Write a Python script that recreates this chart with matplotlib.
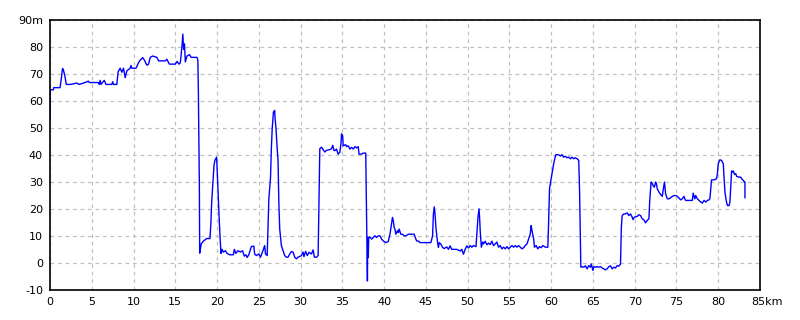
import matplotlib
matplotlib.use("Agg")
import matplotlib.pyplot as plt
import matplotlib.transforms as mtransforms

# distance (km) and elevation (m)
dist = [0, 0.02, 0.4, 0.45, 1.2, 1.35, 1.5, 1.62, 1.8, 1.95, 2.5, 3.2, 3.5, 4.0, 4.6, 4.7,
        5.8, 5.9, 6.0, 6.1, 6.5, 6.7, 7.4, 7.5, 7.6, 8.0, 8.06, 8.15, 8.4, 8.6, 8.8, 9.0,
        9.2, 9.6, 9.7, 9.8, 10.3, 10.6, 10.8, 11.1, 11.3, 11.6, 11.8, 12.0, 12.3, 12.8, 13.0,
        13.8, 14.0, 14.2, 14.3, 15.0, 15.2, 15.45, 15.6, 15.8, 15.9, 16.0, 16.1, 16.2, 16.4,
        16.7, 16.9, 17.6, 17.7, 17.76, 17.88, 17.92, 18.0, 18.1, 18.35, 18.55, 18.75, 19.15,
        19.25, 19.35, 19.47, 19.63, 19.75, 19.95, 20.07, 20.23, 20.35, 20.47, 20.6, 20.75,
        21.0, 21.2, 21.5, 21.95, 22.07, 22.25, 22.5, 22.8, 23.05, 23.26, 23.45, 23.6, 23.8,
        24.1, 24.4, 24.5, 24.7, 25.0, 25.2, 25.5, 25.7, 25.8, 26.0, 26.1, 26.2, 26.4, 26.5,
        26.6, 26.75, 26.9, 26.95, 27.06, 27.2, 27.3, 27.4, 27.5, 27.7, 27.9, 28.1, 28.3, 28.5,
        28.7, 28.9, 29.1, 29.3, 29.5, 29.7, 30.1, 30.3, 30.4, 30.6, 30.8, 31.0, 31.3, 31.5,
        31.65, 31.9, 32.1, 32.2, 32.3, 32.5, 32.7, 32.9, 33.1, 33.5, 33.7, 33.85, 34.0, 34.1,
        34.3, 34.5, 34.7, 34.85, 34.9, 35.04, 35.1, 35.4, 35.5, 35.7, 35.9, 36.1, 36.3, 36.5,
        36.7, 36.9, 37.0, 37.3, 37.5, 37.8, 37.9, 38.0, 38.04, 38.1, 38.16, 38.3, 38.5, 38.7,
        38.9, 39.1, 39.3, 39.5, 39.7, 39.9, 40.2, 40.5, 40.7, 40.9, 41.0, 41.1, 41.2, 41.3,
        41.4, 41.6, 41.7, 41.8, 42.0, 42.2, 42.4, 42.6, 42.9, 43.6, 43.8, 43.9, 44.1, 44.3,
        45.6, 45.8, 45.9, 46.0, 46.1, 46.2, 46.4, 46.5, 46.6, 46.8, 47.0, 47.2, 47.5, 47.7,
        47.9, 48.1, 48.7, 49.1, 49.3, 49.5, 49.7, 49.9, 50.1, 50.3, 50.5, 50.7, 51.0, 51.1,
        51.24, 51.36, 51.44, 51.5, 51.64, 51.8, 51.9, 52.1, 52.3, 52.5, 52.7, 52.9, 53.1, 53.3,
        53.5, 53.7, 53.9, 54.1, 54.3, 54.5, 54.7, 54.9, 55.1, 55.3, 55.5, 55.7, 55.9, 56.1,
        56.3, 56.5, 56.7, 56.9, 57.1, 57.3, 57.5, 57.6, 57.7, 57.9, 58.0, 58.2, 58.4, 58.6,
        58.8, 59.0, 59.3, 59.6, 59.7, 59.8, 59.96, 60.1, 60.3, 60.4, 60.55, 60.9, 61.1, 61.3,
        61.5, 61.7, 61.9, 62.1, 62.3, 62.5, 62.7, 62.9, 63.1, 63.3, 63.4, 63.5, 63.55, 63.7,
        63.9, 64.1, 64.3, 64.5, 64.7, 64.8, 65.0, 65.1, 65.3, 65.5, 65.7, 65.9, 66.1, 66.3,
        66.5, 66.7, 66.9, 67.1, 67.3, 67.5, 67.7, 67.9, 68.1, 68.3, 68.4, 68.5, 68.7, 68.9,
        69.1, 69.3, 69.5, 69.7, 69.8, 69.96, 70.3, 70.5, 70.7, 70.9, 71.1, 71.3, 71.5, 71.7,
        71.8, 71.96, 72.1, 72.2, 72.35, 72.5, 72.6, 72.7, 72.9, 73.1, 73.3, 73.4, 73.56, 73.7,
        73.9, 74.1, 74.3, 74.5, 74.7, 74.9, 75.1, 75.3, 75.5, 75.7, 75.9, 76.0, 76.1, 76.9,
        77.0, 77.2, 77.3, 77.5, 77.7, 77.9, 78.1, 78.3, 78.5, 78.7, 78.9, 79.0, 79.1, 79.2,
        79.5, 79.8, 79.9, 80.0, 80.2, 80.4, 80.6, 80.7, 80.8, 80.95, 81.1, 81.3, 81.4, 81.5,
        81.6, 81.7, 81.8, 81.95, 82.1, 82.2, 82.5, 82.7, 82.8, 83.0, 83.15, 83.2, 83.2]
elev = [53, 64, 64, 64.8, 64.8, 68, 71.9, 71.2, 68.8, 66, 66, 66.5, 66, 66.5, 67.2, 66.7,
        66.7, 66, 67.5, 66, 67.5, 66, 66, 67, 66, 66, 68, 70.6, 72, 70.5, 72, 68.5,
        71, 72, 73, 72, 72, 74, 75, 75.9, 75, 73.1, 73.5, 76, 76.5, 76, 74.7,
        74.7, 75.3, 74, 73.5, 73.5, 74.5, 73.5, 74, 80, 84.6, 79, 81, 74.3, 76.5,
        77, 76, 76, 75, 64, 29, 3.6, 5, 7, 8, 8.5, 9, 9,
        14, 22, 28, 36, 38, 39.1, 30, 18, 10, 3.5, 5, 4,
        4.5, 3.5, 3, 3, 5, 3.5, 4.5, 4, 4.5, 2.5, 3, 2, 3,
        6, 6.2, 3.3, 2.7, 3.3, 2.1, 4.6, 6.4, 3.3, 2.7, 13.8, 23.7, 31.5, 42.2,
        49.6, 55.8, 56.4, 53.3, 49.6, 42.2, 37.9, 21.9, 12.6, 6.4, 4.6, 2.7, 2.1, 2.1,
        3.3, 4.2, 4, 2.1, 1.5, 2.1, 2.7, 4, 2.3, 4.3, 2.7, 3.9, 3.3, 4.8,
        2.1, 2.1, 2.7, 21.9, 42.2, 42.8, 41.9, 41, 41.6, 41.9, 42.2, 43.5, 41.6, 41.5,
        42.1, 40.2, 40.9, 44.6, 47.7, 47, 43.3, 43.7, 43, 43.3, 42.1, 42.7, 42.1, 43,
        42.5, 43, 40.2, 40.2, 40.6, 40.6, 16.8, -6.7, 9.4, 2, 9.4, 9.6, 8.8, 9.4,
        10, 9.4, 10, 10, 8.8, 8.1, 7.5, 7.9, 10.6, 14.9, 16.8, 15.6, 13.1, 12.5,
        10.6, 11.9, 11.2, 12.5, 10.6, 10.6, 10, 10, 10.6, 10.6, 8.8, 8.1, 8.1, 7.5,
        7.5, 10, 18, 20.7, 18, 13.1, 7.5, 5.7, 7.5, 6.9, 5.7, 5.3, 5.9, 5,
        6.3, 5, 5, 4.4, 5, 3.2, 5, 6.3, 5.5, 6.4, 5.8, 6.4, 6, 10.7,
        16.9, 20, 16.3, 12, 5.8, 7.7, 7, 8, 6.7, 7.3, 6.8, 8, 6.4, 7,
        7.7, 5.8, 6.4, 5.2, 5.8, 5.2, 6, 5.2, 5.8, 6.4, 5.8, 6.4, 5.8, 6.4,
        5.8, 5.2, 5.6, 6.4, 7, 8.9, 10.7, 13.8, 12, 8.9, 5.8, 6.4, 5.2, 6,
        5.6, 6.4, 5.8, 5.8, 15.7, 27.4, 30.5, 33, 36.7, 38.1, 40, 40, 39.5, 40,
        39.1, 39.4, 38.9, 39.1, 38.5, 39.1, 38.5, 38.9, 38.5, 37.9, 26.8, 7, -1.6, -1.4,
        -1.6, -1.1, -2.2, -1, -1.6, -0.4, -2.8, -1.4, -1.6, -1.4, -1.6, -1.4, -1.9, -2.2,
        -2.6, -2.2, -1.4, -1.1, -2.2, -1.6, -1.9, -1, -1.2, -0.4, 13.2, 17.5, 18.1, 18.1,
        18.5, 17.5, 18.1, 16.9, 16, 16.9, 17.2, 17.8, 17.5, 16.3, 15.9, 14.8, 15.7, 16.3,
        23.1, 29.9, 29.3, 28.6, 28, 29.9, 29.3, 27.4, 26.2, 25.3, 24.6, 26.8, 29.9, 25.6,
        23.7, 23.7, 24.1, 24.6, 24.9, 24.9, 24.6, 24, 23.3, 23.7, 24.6, 23.7, 23.1, 23.1,
        25.8, 23.7, 24.9, 23.7, 23.1, 22.5, 22.1, 23.1, 22.5, 23.1, 23.3, 23.7, 27.4, 30.7,
        30.7, 31.1, 33, 36.7, 38.1, 37.9, 36.7, 31.7, 26.2, 23.1, 21.2, 21.2, 22.5, 28,
        34, 33.6, 34, 32.7, 33, 32, 31.7, 31.7, 31.1, 30.5, 29.9, 29.9, 24.1]

xticks = list(range(0, 90, 5))
xlabels = [str(v) for v in xticks[:-1]] + ["85km"]
yticks = list(range(-10, 100, 10))
ylabels = [str(v) for v in yticks[:-1]] + ["90m"]

plt.rcParams["font.family"] = "DejaVu Sans"

fig = plt.figure(figsize=(8, 3.2), dpi=100)
ax = fig.add_axes([0.0625, 0.094, 0.8875, 0.845])

ax.plot(dist, elev, color="#0000ff", linewidth=1.0)

ax.set_xlim(0, 85)
ax.set_ylim(-10, 90)
ax.set_xticks(xticks)
ax.set_xticklabels(xlabels)
ax.set_yticks(yticks)
ax.set_yticklabels(ylabels)
ax.tick_params(length=0, labelsize=8, pad=5)
ax.grid(True, color="#c0c0c0", linestyle=(0, (3, 3)), linewidth=0.9)
for s in ax.spines.values():
    s.set_linewidth(1.2)
    s.set_color("black")

# last x label sits with "85" on the tick and the unit trailing right
last = ax.get_xticklabels()[-1]
last.set_horizontalalignment("left")
last.set_transform(last.get_transform() + mtransforms.ScaledTranslation(-6 / 72, 0, fig.dpi_scale_trans))

fig.savefig("out.png", dpi=100)
